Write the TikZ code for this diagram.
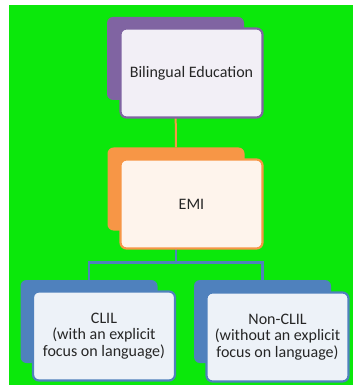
\documentclass[tikz,border=0pt]{standalone}
\usepackage{fontspec}
\setmainfont{Carlito}
\usepackage{tikz}
\usetikzlibrary{positioning}
\definecolor{bggreen}{RGB}{11,232,11}
\definecolor{lilac}{RGB}{128,100,162}
\definecolor{apricot}{RGB}{247,150,70}
\definecolor{steel}{RGB}{79,129,189}
\tikzset{
  every node/.style={
    align=center,
    font=\fontsize{16}{16.5}\selectfont,
    text=black!85,
  },
  backbox/.style={
    fill=#1, rounded corners=6pt,
    minimum width=137pt, minimum height=83pt,
  },
  frontbox/.style={
    draw=#1, fill=#1!10!white, line width=2.2pt, rounded corners=6pt,
    minimum width=142pt, minimum height=89pt,
  },
}

\begin{document}
\begin{tikzpicture}[x=1pt,y=-1pt]
    \useasboundingbox (0,0) rectangle (353,387);
    \fill[bggreen] (9,5) rectangle (353,385);
    \node[backbox=lilac] (bilback) at (175.5,58.5) {};
    \node[backbox=apricot] (emiback) at (176,189) {};
    \node[backbox=steel] (clilback) at (89,321.5) {};
    \node[backbox=steel] (nonclilback) at (262.5,321.5) {};
    \draw[apricot,line width=2pt] (bilback.south) -- (emiback.north);
    \draw[steel,line width=2.5pt] (emiback.south) -- ++(0,32) -| (clilback.north);
    \draw[steel,line width=2.5pt] (emiback.south) -- ++(0,32) -| (nonclilback.north);
    \node[frontbox=lilac] (bil) at (191.5,73) {Bilingual Education};
    \node[frontbox=apricot] (emi) at (191.5,204) {EMI};
    \node[frontbox=steel] (clil) at (104,336) {CLIL\\(with an explicit\\focus on language)};
    \node[frontbox=steel] (nonclil) at (277.5,337) {Non-CLIL\\(without an explicit\\focus on language)};
  \end{tikzpicture}
\end{document}
